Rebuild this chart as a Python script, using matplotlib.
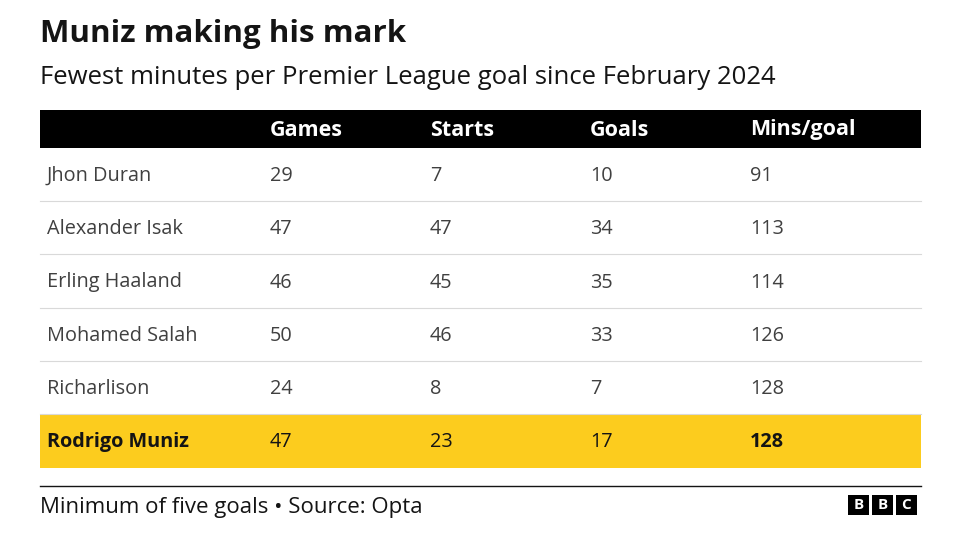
import matplotlib.pyplot as plt
from matplotlib.patches import Rectangle

TITLE = "Muniz making his mark"
SUBTITLE = "Fewest minutes per Premier League goal since February 2024"
FOOTER = "Minimum of five goals \u2022 Source: Opta"

columns = ["Games", "Starts", "Goals", "Mins/goal"]
players = ["Jhon Duran", "Alexander Isak", "Erling Haaland",
           "Mohamed Salah", "Richarlison", "Rodrigo Muniz"]
games = [29, 47, 46, 50, 24, 47]
starts = [7, 47, 45, 46, 8, 23]
goals = [10, 34, 35, 33, 7, 17]
mins_per_goal = [91, 113, 114, 126, 128, 128]
highlight = "Rodrigo Muniz"

W, H = 962, 541
fig = plt.figure(figsize=(W / 100, H / 100), dpi=100)
ax = fig.add_axes([0, 0, 1, 1])
ax.set_xlim(0, W)
ax.set_ylim(H, 0)
ax.axis("off")

FONT = "Open Sans"
TEXT = "#404040"
LEFT, RIGHT = 40, 921
col_x = [270, 430, 590, 750]

ax.text(LEFT, 34, TITLE, fontsize=22.5, fontweight="bold", va="center",
        family=FONT, color="#141414")
ax.text(LEFT, 78, SUBTITLE, fontsize=18.5, va="center", family=FONT,
        color="#141414")

# header bar
ax.add_patch(Rectangle((LEFT, 110), RIGHT - LEFT, 38, color="black", lw=0))
for x, c in zip(col_x, columns):
    ax.text(x, 130, c, fontsize=15.5, fontweight="bold", color="white",
            va="center", family=FONT)

top, row_h = 148, 53.2
for i, name in enumerate(players):
    y0 = top + i * row_h
    yc = y0 + row_h / 2 + 1.5
    bold = name == highlight
    if bold:
        ax.add_patch(Rectangle((LEFT, y0 + 1), RIGHT - LEFT, row_h,
                               color="#FCCC1E", lw=0))
    elif i < len(players) - 1:
        ax.plot([LEFT, RIGHT], [y0 + row_h, y0 + row_h], color="#d9d9d9", lw=0.8)
    vals = [games[i], starts[i], goals[i], mins_per_goal[i]]
    color = "#141414" if bold else TEXT
    ax.text(47, yc, name, fontsize=14.3, fontweight="bold" if bold else "normal",
            color=color, va="center", family=FONT)
    for j, (x, v) in enumerate(zip(col_x, vals)):
        fw = "bold" if bold and j == 3 else "normal"
        ax.text(x, yc, str(v), fontsize=14.3, fontweight=fw, color=color,
                va="center", family=FONT)

ax.plot([LEFT, RIGHT], [486, 486], color="#141414", lw=1)
ax.text(LEFT, 507, FOOTER, fontsize=16, va="center", family=FONT, color="#141414")

# BBC blocks
for k, letter in enumerate("BBC"):
    x0 = 848 + k * 24
    ax.add_patch(Rectangle((x0, 495), 21, 20, color="black", lw=0))
    ax.text(x0 + 10.5, 505, letter, fontsize=11, fontweight="bold",
            color="white", ha="center", va="center", family=FONT)

fig.savefig("out.png", dpi=100, facecolor="white")
